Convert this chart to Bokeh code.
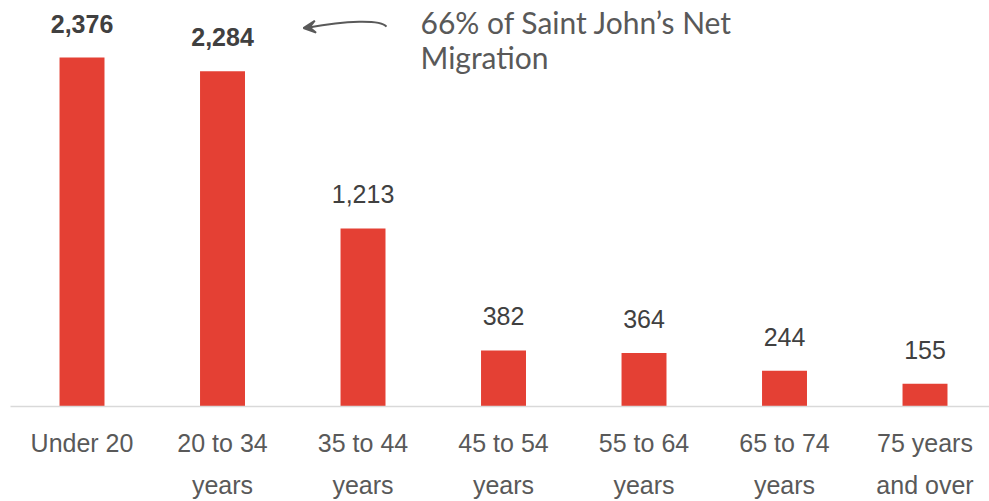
from bokeh.plotting import figure
from bokeh.models import Range1d, FixedTicker, ColumnDataSource, Arrow, VeeHead
from bokeh.embed import file_html
from bokeh.resources import INLINE
from bokeh.core.properties import value, field

categories = ["Under 20", "20 to 34\nyears", "35 to 44\nyears", "45 to 54\nyears",
              "55 to 64\nyears", "65 to 74\nyears", "75 years\nand over"]
migrants = [2376, 2284, 1213, 382, 364, 244, 155]
bold_flags = [True, True, False, False, False, False, False]
labels = [f"{v:,}" for v in migrants]

BAR = "#E44034"
TXT = "#404040"
GRAY = "#595959"

xs = list(range(len(categories)))
src = ColumnDataSource(dict(x=xs, top=migrants, label=labels,
                            weight=["bold" if b else "normal" for b in bold_flags]))

X0, X1 = -0.509, 6.459
Y0, Y1 = 0, 2765

p = figure(width=989, height=501, output_backend="svg", toolbar_location=None,
           x_range=Range1d(X0, X1), y_range=Range1d(Y0, Y1),
           y_axis_location=None, min_border_left=10, min_border_right=0,
           min_border_top=0, min_border_bottom=0)
p.outline_line_color = None
p.grid.visible = False
p.background_fill_color = "white"

p.vbar(x="x", top="top", width=0.32, bottom=0, source=src, fill_color=BAR, line_color=None)
p.text(x="x", y="top", text="label", source=src, text_align="center",
       text_baseline="alphabetic", y_offset=-34, text_font_size="25px",
       text_font=value("Liberation Sans"), text_font_style=field("weight"),
       text_color=TXT)

ax = p.xaxis[0]
ax.ticker = FixedTicker(ticks=xs)
ax.major_label_overrides = {i: c for i, c in enumerate(categories)}
ax.major_tick_line_color = None
ax.minor_tick_line_color = None
ax.axis_line_color = "#D9D9D9"
ax.axis_line_width = 1.5
ax.major_label_text_font = "Liberation Sans"
ax.major_label_text_font_size = "25px"
ax.major_label_text_color = GRAY
ax.major_label_text_line_height = 1.5
ax.major_label_standoff = 16

# annotation (positions in pixel terms converted to data)
def dx(px):
    return X0 + (px - 10) / 140.5

def dy(py):
    return (405 - py) / 0.14646

p.text(x=[dx(420)], y=[dy(21)], text=["66% of Saint John\u2019s Net"],
       text_font=value("Lato"), text_font_size="30px", text_color=GRAY,
       text_baseline="alphabetic")
p.text(x=[dx(420)], y=[dy(56)], text=["Migration"],
       text_font=value("Lato"), text_font_size="30px", text_color=GRAY,
       text_baseline="alphabetic")
p.bezier(x0=[dx(386)], y0=[dy(26)], x1=[dx(308)], y1=[dy(27)],
         cx0=[dx(380)], cy0=[dy(19)], cx1=[dx(345)], cy1=[dy(20)],
         line_color=GRAY, line_width=2)
p.add_layout(Arrow(end=VeeHead(size=12, line_color=GRAY, fill_color=GRAY, line_width=2),
                   x_start=dx(312), y_start=dy(26.5), x_end=dx(303), y_end=dy(27.5),
                   line_color=GRAY, line_width=2))

open("out.html", "w").write(file_html(p, INLINE))
